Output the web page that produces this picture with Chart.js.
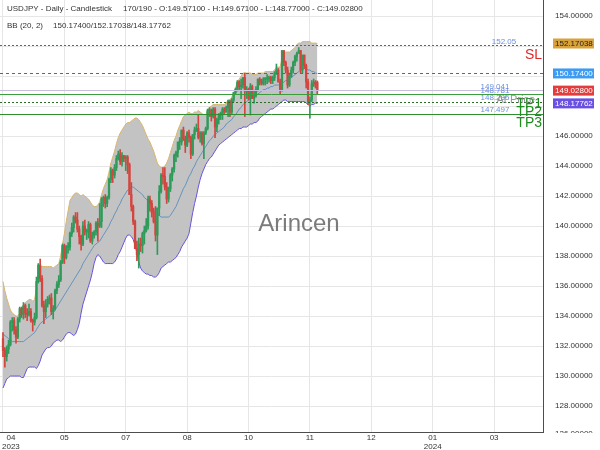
<!DOCTYPE html>
<html>
<head>
<meta charset="utf-8">
<title>USDJPY Daily</title>
<script src="https://cdn.jsdelivr.net/npm/chart.js@4.4.1/dist/chart.umd.min.js"></script>
<style>
  html, body { margin: 0; padding: 0; background: #fff; }
</style>
</head>
<body>
<canvas id="chart" width="600" height="450"></canvas>
<script>
// candle data, one entry per daily bar (oldest first)
const opens = [
  132.5,131.7,131.3,131.8,132.1,133.6,133.7,133.1,132.6,133.8,
  134.5,134.1,134.7,134.2,134.1,134.3,133.7,133.6,133.9,136.3,
  137.4,136.5,134.7,134.3,134.8,135.1,135.2,134.3,134.5,135.7,
  136.1,136.4,137.6,138.7,137.9,138.6,138.6,139.5,139.9,140.6,
  140.4,139.8,139.3,138.8,140.0,139.6,139.6,140.1,139.0,139.4,
  139.6,140.2,140.0,140.3,141.8,141.9,141.5,141.9,143.1,143.7,
  143.4,143.9,144.5,144.8,144.3,144.7,144.5,144.6,144.1,142.1,
  141.3,140.3,138.5,138.1,138.8,138.7,139.5,139.7,140.0,141.8,
  141.5,140.9,140.3,139.4,141.2,142.3,143.4,143.3,142.6,141.8,
  142.5,143.4,143.8,144.7,144.9,145.6,145.6,146.4,145.8,145.4,
  146.2,145.9,144.8,146.1,146.4,146.5,145.9,146.2,145.5,146.2,
  146.5,147.7,147.7,147.3,147.8,146.6,147.1,147.4,147.5,147.8,
  147.6,147.9,148.3,147.6,148.4,148.9,149.1,149.6,149.3,149.4,
  149.9,149.0,149.1,148.5,149.3,148.5,148.7,149.1,149.8,149.6,
  149.5,149.8,149.8,149.8,149.9,149.7,149.9,150.2,150.4,149.6,
  149.1,151.7,150.9,150.4,149.4,150.0,150.4,150.9,151.3,151.5,
  151.7,150.4,151.4,150.7,149.6,148.3,148.4,149.5,149.6,149.571
];
const highs = [
  132.9,131.9,132.0,132.4,133.7,133.9,133.9,133.3,133.9,134.6,
  134.6,134.9,134.8,134.5,134.8,134.5,133.8,134.2,136.6,137.5,
  137.8,136.7,135.0,135.1,135.3,135.4,135.5,134.7,135.8,136.3,
  136.7,137.7,138.8,138.8,138.7,138.9,139.6,140.2,140.7,140.9,
  140.9,140.0,139.4,140.3,140.4,139.8,140.3,140.2,139.6,139.7,
  140.3,140.5,141.5,141.9,142.0,142.1,142.0,143.2,143.9,143.8,
  144.1,144.7,145.0,145.1,144.9,144.7,144.7,144.7,144.2,142.9,
  141.4,140.4,139.0,139.2,139.2,139.6,140.0,140.5,142.0,142.0,
  141.7,141.2,141.3,141.2,142.7,143.5,143.9,143.9,142.9,142.6,
  143.5,143.9,144.8,145.0,145.6,145.9,146.4,146.6,146.0,146.3,
  146.4,146.0,146.1,146.6,146.8,147.4,146.3,146.3,146.3,146.6,
  147.8,147.9,147.8,147.9,147.9,147.2,147.5,147.6,147.9,147.9,
  148.0,148.4,148.4,148.5,148.9,149.2,149.7,149.7,149.8,149.9,
  150.2,149.3,149.2,149.5,149.4,149.0,149.3,149.8,149.9,149.8,
  149.9,149.9,150.1,150.0,150.0,150.0,150.3,150.8,150.5,149.8,
  151.7,151.7,151.0,150.6,150.2,150.6,151.0,151.4,151.6,151.9,
  151.7,151.4,151.4,150.8,149.8,148.6,149.7,149.8,149.7,149.671
];
const lows = [
  131.3,130.6,131.0,131.5,132.0,133.0,132.8,132.2,132.5,133.6,
  133.9,133.8,133.9,133.7,134.0,133.6,133.0,133.4,133.8,136.2,
  136.3,134.6,133.5,133.9,134.6,134.8,134.1,133.8,134.4,135.5,
  135.9,136.3,137.5,137.5,137.8,138.2,138.4,139.3,139.6,140.2,
  139.6,138.8,138.4,138.7,139.4,139.1,139.2,138.9,138.8,139.2,
  139.4,139.0,139.9,139.9,141.3,141.2,141.3,141.8,142.9,142.9,
  143.2,143.7,144.4,144.1,144.0,144.3,143.7,143.5,142.1,141.0,
  140.1,138.5,137.7,137.2,138.3,138.2,138.8,139.6,139.8,141.0,
  140.6,140.2,139.0,138.1,140.7,142.2,142.8,142.4,141.5,141.6,
  142.3,143.0,143.6,144.3,144.6,145.1,145.4,145.7,144.9,145.3,
  145.6,144.5,144.7,145.8,146.3,145.8,145.6,145.4,144.5,146.1,
  146.4,147.3,147.0,147.2,145.9,146.3,146.8,147.1,147.1,147.5,
  147.6,147.3,147.3,147.5,148.3,148.8,149.0,149.1,148.5,149.2,
  147.3,148.5,148.4,147.4,148.5,148.2,148.6,149.0,149.4,149.4,
  149.4,149.4,149.5,149.6,149.5,149.5,149.7,150.1,149.6,148.8,
  149.0,150.7,150.2,149.2,149.3,149.9,150.2,150.7,151.0,151.5,
  150.2,150.2,150.5,149.2,148.1,147.2,148.3,149.3,149.2,148.77
];
const closes = [
  131.7,131.3,131.8,132.1,133.6,133.7,133.1,132.6,133.8,134.5,
  134.1,134.7,134.2,134.1,134.3,133.7,133.6,133.9,136.3,137.4,
  136.5,134.7,134.3,134.8,135.1,135.2,134.3,134.5,135.7,136.1,
  136.4,137.6,138.7,137.9,138.6,138.6,139.5,139.9,140.6,140.4,
  139.8,139.3,138.8,140.0,139.6,139.6,140.1,139.0,139.4,139.6,
  140.2,140.0,140.3,141.8,141.9,141.5,141.9,143.1,143.7,143.4,
  143.9,144.5,144.8,144.3,144.7,144.5,144.6,144.1,142.1,141.3,
  140.3,138.5,138.1,138.8,138.7,139.5,139.7,140.0,141.8,141.5,
  140.9,140.3,139.4,141.2,142.3,143.4,143.3,142.6,141.8,142.5,
  143.4,143.8,144.7,144.9,145.6,145.6,146.4,145.8,145.4,146.2,
  145.9,144.8,146.1,146.4,146.5,145.9,146.2,145.5,146.2,146.5,
  147.7,147.7,147.3,147.8,146.6,147.1,147.4,147.5,147.8,147.6,
  147.9,148.3,147.6,148.4,148.9,149.1,149.6,149.3,149.4,149.9,
  149.0,149.1,148.5,149.3,148.5,148.7,149.1,149.8,149.6,149.5,
  149.8,149.8,149.8,149.9,149.7,149.9,150.2,150.4,149.6,149.1,
  151.7,150.9,150.4,149.4,150.0,150.4,150.9,151.3,151.5,151.7,
  150.4,151.4,150.7,149.6,148.3,148.4,149.5,149.6,149.4,149.028
];

// Bollinger band (20, 2)
const bbUpper = [
  136.3,135.7,135.2,134.8,134.4,134.2,134.1,134.0,134.0,134.2,
  134.4,134.7,134.9,135.0,135.1,135.1,135.0,135.1,135.9,136.9,
  137.3,137.3,137.3,137.3,137.3,137.3,137.3,137.2,137.3,137.4,
  137.5,138.0,138.8,139.5,140.3,141.0,141.7,141.9,142.1,142.2,
  142.2,142.1,142.0,142.1,142.0,141.9,141.8,141.6,141.4,141.3,
  141.3,141.4,141.6,142.1,142.5,142.8,143.1,143.6,144.2,144.6,
  145.0,145.5,145.9,146.2,146.4,146.6,146.8,146.9,146.9,147.0,
  147.1,147.2,147.2,147.1,146.9,146.7,146.4,146.1,145.8,145.6,
  145.3,145.0,144.6,144.2,144.0,143.9,143.9,144.0,144.2,144.5,
  144.9,145.3,145.7,146.0,146.4,146.7,147.0,147.3,147.4,147.5,
  147.6,147.5,147.5,147.6,147.6,147.7,147.6,147.5,147.4,147.4,
  147.7,147.9,148.0,148.1,148.1,148.1,148.1,148.1,148.1,148.1,
  148.2,148.4,148.4,148.6,148.9,149.2,149.6,149.8,150.0,150.2,
  150.2,150.2,150.2,150.2,150.1,150.1,150.1,150.2,150.2,150.2,
  150.2,150.3,150.3,150.3,150.3,150.3,150.4,150.6,150.6,150.6,
  151.2,151.5,151.6,151.6,151.6,151.7,151.8,151.9,152.1,152.2,
  152.2,152.3,152.3,152.3,152.3,152.3,152.2,152.2,152.2,152.17038
];
const bbMiddle = [
  132.8,132.7,132.6,132.5,132.4,132.3,132.3,132.3,132.3,132.3,
  132.3,132.3,132.4,132.5,132.6,132.7,132.8,132.9,133.1,133.3,
  133.5,133.6,133.7,133.8,133.9,134.0,134.1,134.2,134.4,134.6,
  134.8,135.0,135.2,135.4,135.6,135.8,136.0,136.2,136.4,136.6,
  136.8,137.0,137.2,137.5,137.7,137.9,138.1,138.3,138.5,138.7,
  138.8,138.9,139.0,139.2,139.4,139.6,139.8,140.0,140.3,140.5,
  140.8,141.0,141.3,141.5,141.8,142.0,142.2,142.4,142.5,142.6,
  142.6,142.5,142.4,142.3,142.2,142.1,141.9,141.8,141.7,141.5,
  141.3,141.1,140.9,140.8,140.7,140.6,140.6,140.6,140.6,140.6,
  140.7,140.9,141.1,141.3,141.6,141.9,142.2,142.5,142.7,143.0,
  143.3,143.5,143.8,144.0,144.3,144.5,144.7,144.9,145.1,145.3,
  145.5,145.7,145.8,146.0,146.1,146.2,146.3,146.4,146.5,146.6,
  146.8,146.9,147.0,147.1,147.3,147.4,147.6,147.8,147.9,148.1,
  148.2,148.3,148.4,148.5,148.6,148.6,148.7,148.8,148.9,149.0,
  149.1,149.1,149.2,149.2,149.3,149.3,149.4,149.4,149.4,149.4,
  149.5,149.6,149.7,149.7,149.8,149.9,150.0,150.1,150.2,150.3,
  150.4,150.5,150.5,150.5,150.4,150.4,150.3,150.3,150.2,150.174
];
const bbLower = [
  129.2,129.5,129.8,129.9,130.0,130.0,130.0,130.0,130.0,130.0,
  129.9,129.9,130.2,130.5,130.6,130.6,130.6,130.6,130.5,130.7,
  131.0,131.4,131.6,131.8,131.9,131.9,132.0,132.2,132.3,132.4,
  132.4,132.3,132.4,132.6,132.8,132.9,132.9,132.8,132.7,132.8,
  133.1,133.5,134.2,134.8,135.2,135.6,136.0,136.4,136.9,137.5,
  137.9,138.1,138.0,137.8,137.6,137.5,137.5,137.5,137.5,137.5,
  137.6,137.8,138.1,138.3,138.6,138.9,139.2,139.4,139.4,139.3,
  139.1,138.7,138.2,137.6,137.2,137.0,136.9,136.8,136.8,136.7,
  136.7,136.6,136.6,136.7,136.9,137.2,137.3,137.4,137.5,137.6,
  137.6,137.7,137.8,137.9,138.1,138.3,138.6,138.8,139.0,139.2,
  139.5,140.2,140.9,141.5,142.0,142.6,143.1,143.5,143.8,144.1,
  144.3,144.5,144.6,144.8,145.0,145.2,145.4,145.5,145.6,145.7,
  145.8,145.9,146.0,146.1,146.2,146.3,146.4,146.5,146.5,146.6,
  146.6,146.6,146.7,146.8,146.8,146.9,146.9,147.0,147.2,147.3,
  147.4,147.5,147.6,147.7,147.8,147.8,147.9,148.0,148.1,148.2,
  148.3,148.4,148.4,148.3,148.3,148.3,148.3,148.3,148.3,148.3,
  148.3,148.3,148.3,148.2,148.1,148.0,148.1,148.1,148.2,148.17762
];

// axis ticks
const xTickBars = [0, 33, 66, 99, 132, 165, 198, 231, 264];
const xTickLabels = [['04', '2023'], ['05'], ['07'], ['08'], ['10'], ['11'], ['12'], ['01', '2024'], ['03']];
const yTickValues = [128, 130, 132, 134, 136, 138, 140, 142, 144, 146, 148, 150, 152, 154];
const yClippedTick = 126;

// horizontal trade levels
const levelPrices = [152.05, 150.174, 149.041, 148.781, 148.285, 147.497];
const levelValueText = ['152.05', '', '149.041', '148.781', '148.285', '147.497'];
const levelNames = ['SL', '', 'At Price', 'TP1', 'TP2', 'TP3'];

// right axis value tags
const tagValues = [152.17038, 150.174, 149.028, 148.17762];

const headerLine1 = ['USDJPY - Daily - Candlestick', '170/190 - O:149.57100 - H:149.67100 - L:148.77000 - C:149.02800'];
const headerLine2 = ['BB (20, 2)', '150.17400/152.17038/148.17762'];
const watermark = 'Arincen';

// ---- styles ----
const FONT = 'Arial, "Liberation Sans", sans-serif';
const upColor = '#2f9a5a';
const downColor = '#d4453f';
const levelStyles = [
  { color: '#ee2a2a', dash: [2, 2] },
  { color: '#666666', dash: [3, 3] },
  { color: '#c6bfe0', dash: [] },
  { color: '#3c9d3c', dash: [] },
  { color: '#2a6b2a', dash: [2, 2] },
  { color: '#2f8f2f', dash: [] }
];
const levelValueX = [504, 0, 495, 495, 495, 495];
const tagStyles = [
  { bg: '#d9a23a', fg: '#222' },
  { bg: '#3d9cf2', fg: '#fff' },
  { bg: '#e23c3c', fg: '#fff' },
  { bg: '#6a4fe3', fg: '#fff' }
];

const candleColors = closes.map((c, i) => c >= opens[i] ? upColor : downColor);
const toPoints = arr => arr.map((v, i) => ({ x: i, y: v }));

function nearTag(v) {
  return tagValues.some(t => Math.abs(t - v) < 0.6);
}

function noPadding(s) {
  s.paddingLeft = 0;
  s.paddingRight = 0;
  s.paddingTop = 0;
  s.paddingBottom = 0;
}

const overlay = {
  id: 'overlay',
  afterDatasetsDraw(chart) {
    const ctx = chart.ctx;
    const area = chart.chartArea;
    const y = chart.scales.y;
    ctx.save();
    // level lines
    levelPrices.forEach((p, i) => {
      const py = Math.round(y.getPixelForValue(p)) + 0.5;
      ctx.strokeStyle = levelStyles[i].color;
      ctx.setLineDash(levelStyles[i].dash);
      ctx.lineWidth = 1;
      ctx.beginPath();
      ctx.moveTo(area.left, py);
      ctx.lineTo(area.right, py);
      ctx.stroke();
    });
    ctx.setLineDash([]);
    // small value text above each line
    ctx.font = '8px ' + FONT;
    ctx.fillStyle = '#6b8fe0';
    ctx.textAlign = 'center';
    ctx.textBaseline = 'alphabetic';
    levelPrices.forEach((p, i) => {
      if (!levelValueText[i]) return;
      ctx.fillText(levelValueText[i], levelValueX[i], y.getPixelForValue(p) - 1.5);
    });
    // level names
    ctx.textAlign = 'right';
    ctx.textBaseline = 'middle';
    levelPrices.forEach((p, i) => {
      const name = levelNames[i];
      if (!name || name === 'At Price') return;
      ctx.font = '14px ' + FONT;
      ctx.fillStyle = name === 'SL' ? '#e02828' : '#1f8c1f';
      ctx.fillText(name, area.right - 1, y.getPixelForValue(p) + 10);
    });
    levelPrices.forEach((p, i) => {
      if (levelNames[i] !== 'At Price') return;
      ctx.font = '11px ' + FONT;
      ctx.fillStyle = 'rgba(130,130,130,0.85)';
      ctx.fillText(levelNames[i], area.right - 8, y.getPixelForValue(p) + 10);
    });
    ctx.restore();
  },
  afterDraw(chart) {
    const ctx = chart.ctx;
    const area = chart.chartArea;
    const x = chart.scales.x;
    const y = chart.scales.y;
    ctx.save();
    // header
    ctx.font = '8px ' + FONT;
    ctx.fillStyle = '#333';
    ctx.textAlign = 'left';
    ctx.textBaseline = 'alphabetic';
    ctx.fillText(headerLine1[0], 7, 11);
    ctx.fillText(headerLine1[1], 123, 11);
    ctx.fillText(headerLine2[0], 7, 28);
    ctx.fillText(headerLine2[1], 53, 28);
    // watermark
    ctx.font = '24px ' + FONT;
    ctx.fillStyle = 'rgba(100,100,100,0.85)';
    ctx.textAlign = 'center';
    ctx.textBaseline = 'middle';
    ctx.fillText(watermark, 299, 224);
    // x tick labels, kept inside the canvas
    ctx.font = '8px ' + FONT;
    ctx.fillStyle = '#333';
    xTickBars.forEach((b, i) => {
      const lines = xTickLabels[i];
      const w = Math.max(...lines.map(t => ctx.measureText(t).width));
      const cx = Math.max(x.getPixelForValue(b), w / 2 + 2);
      lines.forEach((t, j) => ctx.fillText(t, cx, area.bottom + 5.5 + j * 9));
    });
    // bottom y label, cut by the plot bottom
    ctx.save();
    ctx.beginPath();
    ctx.rect(area.right, 0, chart.width - area.right, area.bottom + 1);
    ctx.clip();
    ctx.textAlign = 'left';
    ctx.fillText(yClippedTick.toFixed(5), area.right + 12, y.getPixelForValue(yClippedTick) - 2);
    ctx.restore();
    // value tags on the price axis
    ctx.font = '8px ' + FONT;
    ctx.textAlign = 'left';
    ctx.textBaseline = 'middle';
    tagValues.forEach((v, i) => {
      const py = y.getPixelForValue(v);
      ctx.fillStyle = tagStyles[i].bg;
      ctx.fillRect(area.right + 10, py - 5, 41, 10);
      ctx.fillStyle = tagStyles[i].fg;
      ctx.fillText(v.toFixed(5), area.right + 12, py);
    });
    ctx.restore();
  }
};

Chart.defaults.font.family = FONT;

new Chart(document.getElementById('chart'), {
  type: 'bar',
  data: {
    datasets: [
      {
        type: 'line', label: 'BB upper', data: toPoints(bbUpper),
        borderColor: '#d9b66c', borderWidth: 1, pointRadius: 0,
        fill: '+1', backgroundColor: '#c3c3c3', order: 5
      },
      {
        type: 'line', label: 'BB lower', data: toPoints(bbLower),
        borderColor: '#6655dd', borderWidth: 1, pointRadius: 0, fill: false, order: 4
      },
      {
        type: 'line', label: 'BB middle', data: toPoints(bbMiddle),
        borderColor: '#4d86bd', borderWidth: 0.8, pointRadius: 0, fill: false, order: 3
      },
      {
        type: 'bar', label: 'wick',
        data: lows.map((l, i) => ({ x: i, y: [l, highs[i]] })),
        backgroundColor: candleColors, barThickness: 1, grouped: false, order: 2
      },
      {
        type: 'bar', label: 'body',
        data: opens.map((o, i) => ({ x: i, y: [o, closes[i]] })),
        backgroundColor: candleColors, barThickness: 1.6, minBarLength: 1, grouped: false, order: 1
      }
    ]
  },
  options: {
    responsive: false,
    animation: false,
    devicePixelRatio: 1,
    events: [],
    layout: { padding: 0, autoPadding: false },
    plugins: {
      legend: { display: false },
      tooltip: { enabled: false }
    },
    scales: {
      x: {
        type: 'linear',
        offset: false,
        min: -1.6,
        max: 290.3,
        grid: { color: '#e6e6e6', drawTicks: false, offset: false },
        border: { color: '#4d4d4d' },
        ticks: { display: false },
        afterBuildTicks: s => { s.ticks = xTickBars.map(v => ({ value: v })); },
        afterFit: s => { s.height = 18; noPadding(s); }
      },
      y: {
        position: 'right',
        min: 126.27,
        max: 155.07,
        grid: { color: '#e6e6e6', drawTicks: false },
        border: { color: '#4d4d4d' },
        ticks: {
          padding: 12,
          color: '#333',
          font: { size: 8 },
          callback: v => nearTag(v) ? '' : v.toFixed(5)
        },
        afterBuildTicks: s => { s.ticks = yTickValues.map(v => ({ value: v })); },
        afterFit: s => { s.width = 57; noPadding(s); }
      }
    }
  },
  plugins: [overlay]
});
</script>
</body>
</html>
